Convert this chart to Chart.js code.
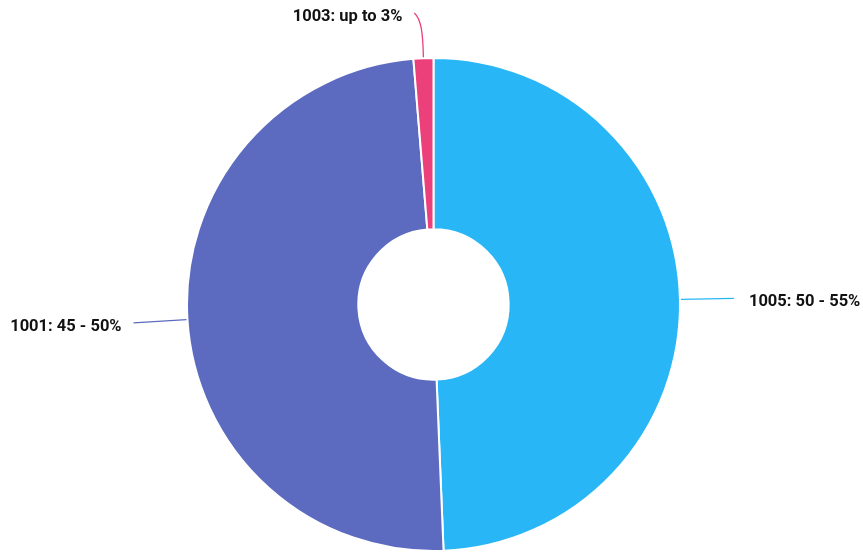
<!DOCTYPE html>
<html>
<head>
<meta charset="utf-8">
<script src="https://cdn.jsdelivr.net/npm/chart.js@4.4.0/dist/chart.umd.min.js"></script>
<style>
  html, body { margin: 0; padding: 0; background: #fff; }
  #wrap { width: 863px; height: 552px; position: relative; }
</style>
</head>
<body>
<div id="wrap"><canvas id="donut"></canvas></div>
<script>
// data
const codes = ['1005', '1001', '1003'];
const ranges = ['50 - 55%', '45 - 50%', 'up to 3%'];
const shares = [49.35, 49.35, 1.3];
const colors = ['#29B6F6', '#5C6BC0', '#EC407A'];

/**
 * Draws outside labels with radial leader lines
 */
const calloutPlugin = {
    id: 'callouts',
    afterDatasetsDraw(chart) {
        const ctx = chart.ctx;
        const meta = chart.getDatasetMeta(0);
        ctx.save();
        ctx.font = 'bold 16.5px Roboto';
        ctx.fillStyle = '#111111';
        ctx.lineWidth = 1.3;
        meta.data.forEach((arc, i) => {
            const p = arc.getProps(['x', 'y', 'startAngle', 'endAngle', 'outerRadius'], true);
            const mid = (p.startAngle + p.endAngle) / 2;
            const cos = Math.cos(mid), sin = Math.sin(mid);
            const r0 = p.outerRadius + 1;
            const start = { x: p.x + cos * r0, y: p.y + sin * r0 };
            let end = { x: p.x + cos * (r0 + 53), y: p.y + sin * (r0 + 53) };
            const text = codes[i] + ': ' + ranges[i];
            ctx.strokeStyle = colors[i];
            ctx.beginPath();
            ctx.moveTo(start.x, start.y);
            if (end.y < 13) {
                // too close to the top edge: bend the line sideways
                end = { x: start.x - 9, y: 13 };
                ctx.bezierCurveTo(start.x - 0.5, start.y - 26, start.x - 2.5, start.y - 38, end.x, end.y);
            } else {
                ctx.lineTo(end.x, end.y);
            }
            ctx.stroke();
            const left = end.x < p.x;
            ctx.textAlign = left ? 'right' : 'left';
            ctx.textBaseline = 'middle';
            ctx.fillText(text, end.x + (left ? -12 : 15), end.y + 4);
        });
        ctx.restore();
    }
};

new Chart(document.getElementById('donut'), {
    type: 'doughnut',
    data: {
        labels: codes,
        datasets: [{
            data: shares,
            backgroundColor: colors,
            borderColor: '#ffffff',
            borderWidth: 2
        }]
    },
    options: {
        responsive: true,
        maintainAspectRatio: false,
        animation: false,
        cutout: '30.5%',
        layout: { padding: { top: 57, left: 4, right: 0, bottom: -2 } },
        plugins: {
            legend: { display: false },
            tooltip: { enabled: false }
        }
    },
    plugins: [calloutPlugin]
});
</script>
</body>
</html>
